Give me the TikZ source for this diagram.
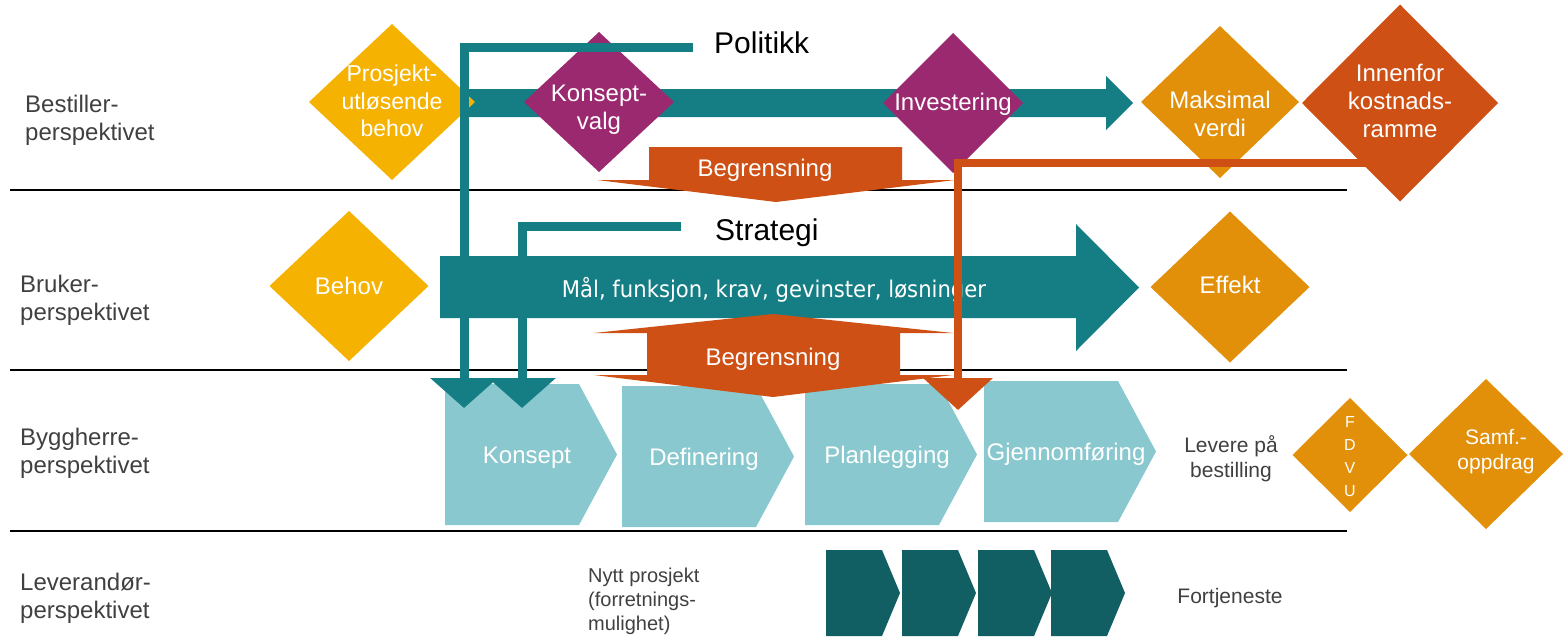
\documentclass[tikz,border=0pt]{standalone}
\usepackage{fontspec}
\setmainfont{Liberation Sans}
\newfontfamily\maalfont[FakeStretch=0.92]{DejaVu Sans}
\usepackage{tikz}
\usetikzlibrary{shapes.geometric,arrows.meta,calc,positioning}

\definecolor{petrol}{RGB}{21,126,133}
\definecolor{lyspetrol}{RGB}{136,200,206}
\definecolor{morkpetrol}{RGB}{17,94,99}
\definecolor{gul}{RGB}{246,178,0}
\definecolor{oker}{RGB}{226,144,10}
\definecolor{rust}{RGB}{206,80,20}
\definecolor{lilla}{RGB}{155,41,111}
\definecolor{tekst}{RGB}{64,64,64}

\begin{document}
\begin{tikzpicture}[x=1pt,y=-1pt]
\tikzstyle{dia}=[diamond,inner sep=0pt,outer sep=0pt]
\tikzstyle{wtxt}=[text=white,align=center,inner sep=0pt,font=\fontsize{24}{28}\selectfont]
\tikzstyle{lbl}=[text=tekst,align=left,inner sep=0pt,anchor=west,font=\fontsize{24}{28}\selectfont]
\tikzstyle{smalltxt}=[text=tekst,align=center,inner sep=0pt,font=\fontsize{21}{25}\selectfont]
\tikzstyle{btxt}=[text=white,inner sep=0pt,font=\fontsize{24}{28}\selectfont]
\tikzstyle{overskrift}=[text=black,inner sep=0pt,anchor=base west,font=\fontsize{30}{34}\selectfont]
\tikzstyle{skille}=[line width=2pt,black]
\tikzstyle{tconn}=[petrol,line width=9pt,-{Triangle[width=66pt,length=30pt]}]
\tikzstyle{rconn}=[rust,line width=8pt,-{Triangle[width=68pt,length=32pt]}]

\useasboundingbox (0,0) rectangle (1566,638);

% skillelinjer
\foreach \y in {190,370,531}
  \draw[skille] (10,\y) -- (1347,\y);

% perspektiver
\node[lbl] (lbest) at (25,120) {Bestiller-\\perspektivet};
\node[lbl] (lbruk) at (20,300) {Bruker-\\perspektivet};
\node[lbl] (lbygg) at (20,453) {Byggherre-\\perspektivet};
\node[lbl] (llev) at (20,598) {Leverandør-\\perspektivet};

% bestiller
\fill[petrol] (464,89) -- (1106,89) -- (1106,76) -- (1133,103) -- (1106,130) -- (1106,117) -- (464,117) -- cycle;

\node[dia,fill=gul,minimum width=166pt,minimum height=156pt] (prosjekt) at (392,102) {};
\node[wtxt,font=\fontsize{23}{27.5}\selectfont] (prosjekt-t) at (392,101) {Prosjekt-\\utløsende\\behov};
\node[dia,fill=lilla,minimum width=150pt,minimum height=140pt] (kvalg) at (599,102) {};
\node[wtxt] (kvalg-t) at (599,110) {Konsept-\\valg};
\node[dia,fill=lilla,minimum width=140pt,minimum height=140pt] (invest) at (953,103) {};
\node[wtxt] (invest-t) at (953,104) {Investering};
\node[dia,fill=oker,minimum width=158pt,minimum height=152pt] (maks) at (1220,102) {};
\node[wtxt] (maks-t) at (1220,114) {Maksimal\\verdi};
\node[dia,fill=rust,minimum width=196pt,minimum height=197pt] (innenfor) at (1400,103) {};
\node[wtxt] (innenfor-t) at (1400,101) {Innenfor\\kostnads-\\ramme};

\node[overskrift] (politikk) at (714,53) {Politikk};

\fill[rust] (649,147) -- (902,147) -- (902,180) -- (955,180) -- (776,202) -- (597,180) -- (649,180) -- cycle;
\node[btxt,anchor=base] (begr1) at (765,176) {Begrensning};

% bruker
\fill[petrol] (440,256) -- (1076,256) -- (1076,224) -- (1139,287.5) -- (1076,351) -- (1076,318) -- (440,318) -- cycle;
\node[text=white,inner sep=0pt,anchor=base,font=\maalfont\fontsize{23}{27}\selectfont] (maal) at (774,297) {Mål, funksjon, krav, gevinster, løsninger};

\node[dia,fill=gul,minimum width=159pt,minimum height=150pt] (behov) at (349,286) {};
\node[wtxt] (behov-t) at (349,285.5) {Behov};
\node[dia,fill=oker,minimum width=159pt,minimum height=151pt] (effekt) at (1230,287) {};
\node[wtxt] (effekt-t) at (1230,285) {Effekt};

\node[overskrift] (strategi) at (715,240) {Strategi};

% byggherre
\foreach \x/\y/\n/\t in {445/384/konsept/Konsept, 622/386/definering/Definering, 805/384/planlegging/Planlegging, 984/381/gjennomf/Gjennomføring}{
  \fill[lyspetrol] (\x,\y) -- ++(134,0) -- ++(38,70.5) -- ++(-38,70.5) -- ++(-134,0) -- cycle;
  \node[btxt,anchor=base] (\n) at (\x+82,\y+79) {\t};
}

\fill[rust] (647,333) -- (594,333) -- (773,314) -- (953,333) -- (900,333) -- (900,375) -- (953,375) -- (773,397) -- (594,375) -- (647,375) -- cycle;
\node[btxt,anchor=base] (begr2) at (773,365) {Begrensning};

\node[smalltxt] (levere) at (1231,459) {Levere på\\bestilling};
\node[dia,fill=oker,minimum width=115pt,minimum height=114pt] (fdvu) at (1350,455) {};
\node[wtxt,font=\fontsize{16}{23}\selectfont] (fdvu-t) at (1350,457) {F\\D\\V\\U};
\node[dia,fill=oker,minimum width=154pt,minimum height=150pt] (samf) at (1486,454) {};
\node[wtxt,font=\fontsize{21}{25}\selectfont] (samf-t) at (1496,452) {Samf.-\\oppdrag};

% leverandør
\node[smalltxt,align=left,anchor=west,font=\fontsize{20}{24}\selectfont] (nytt) at (588,601) {Nytt prosjekt\\(forretnings-\\mulighet)};
\foreach \x in {826,902,978,1051}
  \fill[morkpetrol] (\x,550) -- ++(56,0) -- ++(18,43) -- ++(-18,43) -- ++(-56,0) -- cycle;
\node[smalltxt,anchor=base] (fortj) at (1230,603) {Fortjeneste};

% styringslinjer
\coordinate (pspiss) at (464,408);
\coordinate (sspiss) at (522,408);
\coordinate (rspiss) at (958,410);
\draw[tconn] ([xshift=-21pt,yshift=5.5pt]politikk.base west) -| (pspiss);
\draw[tconn] ([xshift=-34pt,yshift=13.5pt]strategi.base west) -| (sspiss);
\draw[rconn] ([yshift=-60pt]innenfor.center) -| (rspiss);

\end{tikzpicture}
\end{document}
